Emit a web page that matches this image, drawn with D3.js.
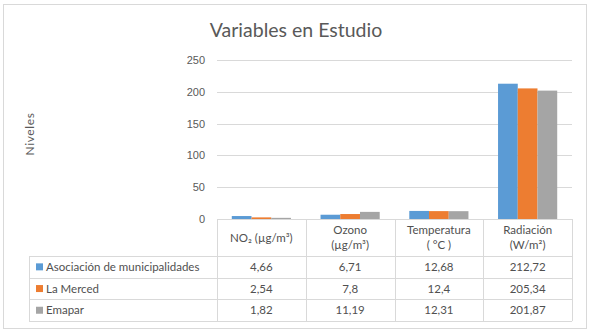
<!DOCTYPE html>
<html>
<head>
<meta charset="utf-8">
<script src="https://cdn.jsdelivr.net/npm/d3@7"></script>
<style>
  body { margin: 0; background: #fff; }
  svg { font-family: Lato, "Open Sans", sans-serif; }
  .tick text { fill: #595959; font-size: 11px; }
  .cell { fill: #505050; font-size: 11.5px; }
</style>
</head>
<body>
<svg id="chart" width="591" height="332"></svg>
<script>
// data
const categories = ['NO₂ (µg/m³)', 'Ozono\n(µg/m³)', 'Temperatura\n( °C )', 'Radiación\n(W/m²)']
const seriesNames = ['Asociación de municipalidades', 'La Merced', 'Emapar']
const seriesValues = [
    [4.66, 6.71, 12.68, 212.72],
    [2.54, 7.8, 12.4, 205.34],
    [1.82, 11.19, 12.31, 201.87]
]
const seriesLabels = [
    ['4,66', '6,71', '12,68', '212,72'],
    ['2,54', '7,8', '12,4', '205,34'],
    ['1,82', '11,19', '12,31', '201,87']
]
const yTicks = [0, 50, 100, 150, 200, 250]
const colors = ['#5B9BD5', '#ED7D31', '#A5A5A5']

const svg = d3.select('#chart')
const gridColor = '#d9d9d9'

// outer frame
svg.append('rect')
    .attr('x', 3.5).attr('y', 4.5).attr('width', 583).attr('height', 324)
    .style('fill', '#fff').style('stroke', gridColor)

// title
svg.append('text')
    .attr('x', 296).attr('y', 37)
    .attr('text-anchor', 'middle')
    .style('font-size', '19.5px').style('fill', '#595959')
    .text('Variables en Estudio')

// scales
const plotLeft = 217, plotRight = 572, plotTop = 60, plotBottom = 219
const x = d3.scaleBand().domain(d3.range(categories.length)).range([plotLeft, plotRight])
const y = d3.scaleLinear().domain([0, 250]).range([plotBottom, plotTop])
const xs = d3.scaleBand().domain(d3.range(seriesNames.length))
    .range([0, x.bandwidth()]).paddingOuter(0.75).paddingInner(0)

// gridlines
svg.append('g').selectAll('line').data(yTicks).join('line')
    .attr('x1', plotLeft).attr('x2', plotRight)
    .attr('y1', d => Math.round(y(d)) + 0.5).attr('y2', d => Math.round(y(d)) + 0.5)
    .style('stroke', gridColor)

// y axis labels
const axisY = d3.axisLeft(y).tickValues(yTicks).tickSize(0).tickPadding(12)
const gy = svg.append('g').attr('transform', `translate(${plotLeft},0)`).call(axisY)
gy.select('.domain').remove()

svg.append('text')
    .attr('transform', `translate(34,134) rotate(-90)`)
    .attr('text-anchor', 'middle')
    .style('font-size', '12px').style('fill', '#595959').style('letter-spacing', '0.6px')
    .text('Niveles')

// bars
seriesValues.forEach((vals, s) => {
    svg.append('g').selectAll('rect').data(vals).join('rect')
        .attr('x', (d, i) => x(i) + xs(s))
        .attr('width', xs.bandwidth())
        .attr('y', d => y(d))
        .attr('height', d => plotBottom - y(d))
        .style('fill', colors[s])
})

// data table
const tableLeft = 29
const headerBottom = 256
const rowH = 21.7
const tableBottom = headerBottom + rowH * seriesNames.length
const tbl = svg.append('g').style('stroke', gridColor).style('fill', 'none')
// vertical lines
const vx = d3.range(categories.length + 1).map(i => i < categories.length ? x(i) : plotRight)
tbl.selectAll('line.v').data(vx).join('line')
    .attr('x1', d => Math.round(d) + 0.5).attr('x2', d => Math.round(d) + 0.5)
    .attr('y1', plotBottom).attr('y2', tableBottom)
tbl.append('line')
    .attr('x1', tableLeft + 0.5).attr('x2', tableLeft + 0.5)
    .attr('y1', headerBottom).attr('y2', tableBottom)
// horizontal lines
const hy = d3.range(seriesNames.length + 1).map(i => headerBottom + i * rowH)
tbl.selectAll('line.h').data(hy).join('line')
    .attr('x1', tableLeft).attr('x2', plotRight)
    .attr('y1', d => Math.round(d) + 0.5).attr('y2', d => Math.round(d) + 0.5)

// header text
categories.forEach((c, i) => {
    const lines = c.split('\n')
    const cy = (plotBottom + headerBottom) / 2
    const t = svg.append('text').attr('class', 'cell').attr('text-anchor', 'middle')
    lines.forEach((ln, j) => {
        t.append('tspan')
            .attr('x', x(i) + x.bandwidth() / 2)
            .attr('y', cy + 4 + (j - (lines.length - 1) / 2) * 15)
            .text(ln)
    })
})

// rows
seriesNames.forEach((name, s) => {
    const rowMid = headerBottom + s * rowH + rowH / 2
    svg.append('rect')
        .attr('x', tableLeft + 7).attr('y', rowMid - 3.5).attr('width', 7).attr('height', 7)
        .style('fill', colors[s])
    svg.append('text').attr('class', 'cell')
        .attr('x', tableLeft + 17).attr('y', rowMid + 4)
        .text(name)
    svg.append('g').selectAll('text').data(seriesLabels[s]).join('text')
        .attr('class', 'cell').attr('text-anchor', 'middle')
        .attr('x', (d, i) => x(i) + x.bandwidth() / 2)
        .attr('y', rowMid + 4)
        .text(d => d)
})
</script>
</body>
</html>
